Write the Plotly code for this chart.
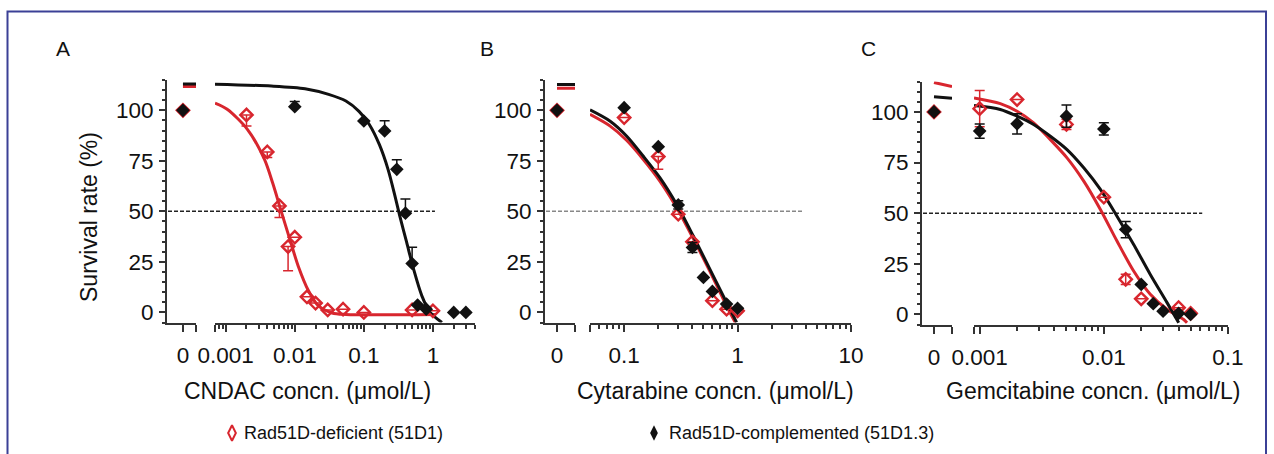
import math
import plotly.graph_objects as go

W, H = 1274, 454
RED = "#d8262e"
BLACK = "#111111"
AXIS = "#333333"
FONT = "Arial, Liberation Sans, Helvetica, sans-serif"
LEG_FONT = "Liberation Sans Narrow, Arial Narrow, Arial, Liberation Sans, sans-serif"

# ---------------- data ----------------
# Panel A: CNDAC
A_zero_red, A_zero_black = 100.0, 100.0
A_red_x = [0.002, 0.004, 0.006, 0.008, 0.01, 0.015, 0.02, 0.03, 0.05, 0.1, 0.5, 1.0]
A_red_y = [97.7, 79.4, 52.7, 32.6, 37.2, 7.7, 4.6, 1.2, 1.6, 0.0, 1.2, 0.8]
A_red_err_minus = [5.5, 2.8, 5.7, 12.0, 0, 0, 0, 0, 0, 0, 0, 0]
A_black_x = [0.01, 0.1, 0.2, 0.3, 0.4, 0.5, 0.6, 0.8, 2.0, 3.0]
A_black_y = [101.8, 94.7, 89.8, 70.8, 49.1, 24.2, 3.6, 1.6, 0.0, 0.0]
A_black_err_plus = [2.5, 0, 5.0, 4.7, 7.0, 8.0, 0, 0, 0, 0]
A_red_fit_x = [0.0007, 0.00105, 0.00206, 0.00363, 0.00479, 0.00637, 0.00851, 0.0112, 0.0158, 0.0219, 0.0347, 0.055, 1.1]
A_red_fit_y = [103.5, 100.5, 90.6, 75.8, 64.0, 50.0, 36.0, 23.0, 10.7, 3.3, -0.3, -1.0, -1.0]
A_black_fit_x = [0.0007, 0.00457, 0.0141, 0.0309, 0.055, 0.0851, 0.120, 0.168, 0.224, 0.282, 0.331, 0.417, 0.525, 0.692, 0.912, 1.35]
A_black_fit_y = [112.9, 112.0, 110.7, 107.9, 104.6, 99.5, 93.0, 83.0, 70.8, 57.7, 47.8, 34.6, 21.4, 8.2, 0.0, -5.0]
A_zero_fit_red = [111.8, 111.8]
A_zero_fit_black = [113.0, 113.0]

# Panel B: Cytarabine
B_zero_red, B_zero_black = 100.0, 100.0
B_red_x = [0.1, 0.2, 0.3, 0.4, 0.6, 0.8, 1.0]
B_red_y = [96.4, 77.1, 48.6, 34.9, 5.8, 1.6, 0.8]
B_red_err_minus = [0, 6.3, 0, 0, 0, 0, 0]
B_black_x = [0.1, 0.2, 0.3, 0.4, 0.5, 0.6, 0.8, 1.0]
B_black_y = [101.3, 82.0, 53.2, 32.1, 17.3, 10.4, 4.1, 2.0]
B_black_err = [0, 0, 2.0, 2.5, 0, 0, 0, 0]
B_red_fit_x = [0.05, 0.0748, 0.105, 0.147, 0.2065, 0.290, 0.406, 0.570, 0.748, 0.885, 0.955]
B_red_fit_y = [98.0, 92.3, 85.2, 75.8, 65.0, 51.9, 36.6, 20.3, 6.6, -1.6, -5.0]
B_black_fit_x = [0.05, 0.0748, 0.105, 0.147, 0.2065, 0.290, 0.406, 0.570, 0.748, 0.916, 0.98]
B_black_fit_y = [100.2, 94.7, 87.3, 77.4, 66.7, 53.5, 37.9, 21.4, 8.2, -1.6, -5.0]
B_zero_fit_red = [110.9, 110.9]
B_zero_fit_black = [112.8, 112.8]

# Panel C: Gemcitabine
C_zero_red, C_zero_black = 100.0, 100.0
C_red_x = [0.001, 0.002, 0.005, 0.01, 0.015, 0.02, 0.04, 0.05]
C_red_y = [101.6, 106.1, 93.8, 57.9, 17.3, 7.7, 3.3, 0.5]
C_red_err = [9.0, 0, 2.5, 0, 2.5, 0, 0, 0]
C_black_x = [0.001, 0.002, 0.005, 0.01, 0.015, 0.02, 0.025, 0.03, 0.04, 0.05]
C_black_y = [90.5, 94.1, 97.9, 91.6, 41.9, 14.8, 5.3, 1.6, 0.5, 0.0]
C_black_err = [3.5, 5.0, 5.5, 3.0, 4.0, 0, 0, 0, 0, 0]
C_red_fit_x = [0.0009, 0.001466, 0.002, 0.00272, 0.00371, 0.00505, 0.00689, 0.00938, 0.01276, 0.01738, 0.02366, 0.03228, 0.04395, 0.04677]
C_red_fit_y = [106.9, 104.1, 100.3, 94.6, 86.3, 77.3, 65.8, 51.8, 36.2, 21.4, 9.9, 2.5, -2.5, -4.1]
C_black_fit_x = [0.0009, 0.001466, 0.002, 0.00272, 0.00371, 0.00505, 0.00689, 0.00938, 0.01276, 0.01738, 0.02366, 0.03228, 0.0401]
C_black_fit_y = [103.1, 101.2, 97.9, 93.8, 88.0, 81.4, 72.4, 61.7, 48.5, 34.5, 19.7, 5.8, -4.1]
C_zero_fit_red = [114.5, 112.5]
C_zero_fit_black = [107.5, 106.7]

Y_TICKS = [0, 25, 50, 75, 100]
PANEL_LETTERS = ["A", "B", "C"]
X_TITLES = ["CNDAC concn. (\u03bcmol/L)", "Cytarabine concn. (\u03bcmol/L)", "Gemcitabine concn. (\u03bcmol/L)"]
LEGEND_NAMES = ["Rad51D-deficient (51D1)", "Rad51D-complemented (51D1.3)"]

# ---------------- layout geometry (pixels) ----------------
panels = [
    dict(ytop=80, ybot=322.5, zdom=(167, 196), zrange=(-0.55, 0.45), ldom=(215, 474.5),
         lrange=(0.0007, 4.0), majors=[0.001, 0.01, 0.1, 1], labels=["0.001", "0.01", "0.1", "1"],
         ref_end=1.07, ref_color="#222222", letter_px=(63, 48), title_px=(307, 391),
         data=dict(zr=A_zero_red, zb=A_zero_black, rx=A_red_x, ry=A_red_y, rep=[0] * len(A_red_x), rem=A_red_err_minus,
                   bx=A_black_x, by=A_black_y, bep=A_black_err_plus, bem=[0] * len(A_black_x),
                   rfx=A_red_fit_x, rfy=A_red_fit_y, bfx=A_black_fit_x, bfy=A_black_fit_y,
                   zfr=A_zero_fit_red, zfb=A_zero_fit_black)),
    dict(ytop=80, ybot=322.5, zdom=(545, 575), zrange=(-0.4, 0.6), ldom=(590, 851),
         lrange=(0.05, 10.0), majors=[0.1, 1, 10], labels=["0.1", "1", "10"],
         ref_end=3.8, ref_color="#888888", letter_px=(487, 48), title_px=(715, 391),
         data=dict(zr=B_zero_red, zb=B_zero_black, rx=B_red_x, ry=B_red_y, rep=[0] * len(B_red_x), rem=B_red_err_minus,
                   bx=B_black_x, by=B_black_y, bep=B_black_err, bem=B_black_err,
                   rfx=B_red_fit_x, rfy=B_red_fit_y, bfx=B_black_fit_x, bfy=B_black_fit_y,
                   zfr=B_zero_fit_red, zfb=B_zero_fit_black)),
    dict(ytop=81.5, ybot=324.5, zdom=(922, 952), zrange=(-0.4, 0.6), ldom=(974, 1228),
         lrange=(0.0009, 0.1), majors=[0.001, 0.01, 0.1], labels=["0.001", "0.01", "0.1"],
         ref_end=0.062, ref_color="#222222", letter_px=(868, 48), title_px=(1093, 391),
         data=dict(zr=C_zero_red, zb=C_zero_black, rx=C_red_x, ry=C_red_y, rep=C_red_err, rem=C_red_err,
                   bx=C_black_x, by=C_black_y, bep=C_black_err, bem=C_black_err,
                   rfx=C_red_fit_x, rfy=C_red_fit_y, bfx=C_black_fit_x, bfy=C_black_fit_y,
                   zfr=C_zero_fit_red, zfb=C_zero_fit_black)),
]


def pxx(p):
    return p / W


def pxy(p):
    return 1 - p / H


fig = go.Figure()
layout = dict(width=W, height=H, autosize=False, margin=dict(l=0, r=0, t=0, b=0, pad=0, autoexpand=False),
              paper_bgcolor="white", plot_bgcolor="rgba(0,0,0,0)", showlegend=False,
              font=dict(family=FONT, color=BLACK))
shapes, annotations = [], []
tickfont = dict(family=FONT, size=22.5, color=BLACK)

for i, p in enumerate(panels):
    zx_id, lx_id, y_id = 2 * i + 1, 2 * i + 2, i + 1
    zx_name = "x" if zx_id == 1 else f"x{zx_id}"
    lx_name = f"x{lx_id}"
    y_name = "y" if y_id == 1 else f"y{y_id}"
    ydom = [pxy(p["ybot"]), pxy(p["ytop"])]

    lo, hi = p["lrange"]
    minors = []
    for n in range(-5, 2):
        for k in range(2, 10):
            v = k * 10 ** n
            if lo * 0.999 <= v <= hi * 1.001:
                minors.append(v)

    layout["yaxis" if y_id == 1 else f"yaxis{y_id}"] = dict(
        domain=ydom, anchor=zx_name, range=[-5, 115], showline=True, linewidth=2, linecolor=AXIS,
        ticks="outside", ticklen=6, tickwidth=2, tickcolor=AXIS, tickvals=Y_TICKS,
        tickfont=tickfont, showgrid=False, zeroline=False, ticklabelstandoff=1, automargin=False,
        minor=dict(tickmode="linear", tick0=0, dtick=5, ticks="outside", ticklen=3, tickwidth=1.5,
                   tickcolor=AXIS, showgrid=False))
    layout["xaxis" if zx_id == 1 else f"xaxis{zx_id}"] = dict(
        domain=[pxx(p["zdom"][0]), pxx(p["zdom"][1])], anchor=y_name, range=list(p["zrange"]),
        showline=True, linewidth=2, linecolor=AXIS, ticks="outside", ticklen=7, tickwidth=2,
        tickcolor=AXIS, tickvals=[0, p["zrange"][1] - 0.002], ticktext=["0", ""], automargin=False,
        tickfont=tickfont, showgrid=False, zeroline=False, ticklabelstandoff=4)
    layout[f"xaxis{lx_id}"] = dict(
        domain=[pxx(p["ldom"][0]), pxx(p["ldom"][1])], anchor=y_name, type="log",
        range=[math.log10(lo), math.log10(hi)], showline=True, linewidth=2, linecolor=AXIS,
        ticks="outside", ticklen=7, tickwidth=2, tickcolor=AXIS, automargin=False,
        tickvals=[lo * 1.001] + p["majors"], ticktext=[""] + p["labels"],
        tickfont=tickfont, showgrid=False, zeroline=False, ticklabelstandoff=4,
        minor=dict(tickmode="array", tickvals=minors, ticks="outside", ticklen=4, tickwidth=1.5,
                   tickcolor=AXIS, showgrid=False))

    d = p["data"]
    zend = p["zrange"][1]
    fig.add_trace(go.Scatter(x=[0, zend], y=d["zfr"], mode="lines", line=dict(color=RED, width=3),
                             xaxis=zx_name, yaxis=y_name, hoverinfo="skip"))
    fig.add_trace(go.Scatter(x=[0, zend], y=d["zfb"], mode="lines", line=dict(color=BLACK, width=3),
                             xaxis=zx_name, yaxis=y_name, hoverinfo="skip"))
    fig.add_trace(go.Scatter(x=d["rfx"], y=d["rfy"], mode="lines",
                             line=dict(color=RED, width=3, shape="spline", smoothing=0.8),
                             xaxis=lx_name, yaxis=y_name, name=LEGEND_NAMES[0]))
    fig.add_trace(go.Scatter(x=d["bfx"], y=d["bfy"], mode="lines",
                             line=dict(color=BLACK, width=3, shape="spline", smoothing=0.8),
                             xaxis=lx_name, yaxis=y_name, name=LEGEND_NAMES[1]))
    fig.add_trace(go.Scatter(x=[0], y=[d["zr"]], mode="markers", cliponaxis=False,
                             marker=dict(symbol="diamond-open", size=9.5, color=RED, line=dict(width=2.4, color=RED)),
                             xaxis=zx_name, yaxis=y_name))
    fig.add_trace(go.Scatter(x=[0], y=[d["zb"]], mode="markers", cliponaxis=False,
                             marker=dict(symbol="diamond", size=10.5, color=BLACK),
                             xaxis=zx_name, yaxis=y_name))
    fig.add_trace(go.Scatter(x=d["rx"], y=d["ry"], mode="markers", cliponaxis=False,
                             marker=dict(symbol="diamond-open", size=9.5, color=RED, line=dict(width=2.4, color=RED)),
                             error_y=dict(type="data", symmetric=False, array=d["rep"], arrayminus=d["rem"],
                                          color=RED, thickness=1.5, width=5),
                             xaxis=lx_name, yaxis=y_name, name=LEGEND_NAMES[0]))
    fig.add_trace(go.Scatter(x=d["bx"], y=d["by"], mode="markers", cliponaxis=False,
                             marker=dict(symbol="diamond", size=10.5, color=BLACK),
                             error_y=dict(type="data", symmetric=False, array=d["bep"], arrayminus=d["bem"],
                                          color=BLACK, thickness=1.5, width=5),
                             xaxis=lx_name, yaxis=y_name, name=LEGEND_NAMES[1]))

    l0, l1 = math.log10(lo), math.log10(hi)
    end_px = p["ldom"][0] + (math.log10(p["ref_end"]) - l0) / (l1 - l0) * (p["ldom"][1] - p["ldom"][0])
    shapes.append(dict(type="line", xref="paper", yref=y_name, x0=pxx(p["zdom"][0] + 1), x1=pxx(end_px),
                       y0=50, y1=50, line=dict(color=p["ref_color"], width=1.5, dash="4px,2px"), layer="below"))

    annotations.append(dict(text=PANEL_LETTERS[i], xref="paper", yref="paper", x=pxx(p["letter_px"][0]),
                            y=pxy(p["letter_px"][1]), showarrow=False, xanchor="center", yanchor="middle",
                            font=dict(family=FONT, size=21, color=BLACK)))
    annotations.append(dict(text=X_TITLES[i], xref="paper", yref="paper", x=pxx(p["title_px"][0]),
                            y=pxy(p["title_px"][1]), showarrow=False, xanchor="center", yanchor="middle",
                            font=dict(family=FONT, size=23, color=BLACK)))

annotations.append(dict(text="Survival rate (%)", xref="paper", yref="paper", x=pxx(89), y=pxy(217),
                        textangle=-90, showarrow=False, xanchor="center", yanchor="middle",
                        font=dict(family=FONT, size=23, color=BLACK)))

layout["xaxis7"] = dict(domain=[0, 1], range=[0, W], visible=False, anchor="y4")
layout["yaxis4"] = dict(domain=[0, 1], range=[H, 0], visible=False, anchor="x7")
LEG_Y = 433
fig.add_trace(go.Scatter(x=[232], y=[LEG_Y], mode="markers", xaxis="x7", yaxis="y4", cliponaxis=False,
                         marker=dict(symbol="diamond-tall-open", size=11, color=RED, line=dict(width=2, color=RED))))
fig.add_trace(go.Scatter(x=[654], y=[LEG_Y], mode="markers", xaxis="x7", yaxis="y4", cliponaxis=False,
                         marker=dict(symbol="diamond-tall", size=11, color=BLACK)))
annotations.append(dict(text=LEGEND_NAMES[0], xref="paper", yref="paper", x=pxx(242), y=pxy(LEG_Y),
                        showarrow=False, xanchor="left", yanchor="middle",
                        font=dict(family=LEG_FONT, size=18, color=BLACK)))
annotations.append(dict(text=LEGEND_NAMES[1], xref="paper", yref="paper", x=pxx(667), y=pxy(LEG_Y),
                        showarrow=False, xanchor="left", yanchor="middle",
                        font=dict(family=LEG_FONT, size=18, color=BLACK)))

shapes.append(dict(type="rect", xref="paper", yref="paper", x0=pxx(7.5), x1=pxx(1266), y0=-0.2, y1=pxy(11.5),
                   line=dict(color="#3b4096", width=2), fillcolor="rgba(0,0,0,0)", layer="below"))

layout["shapes"] = shapes
layout["annotations"] = annotations
fig.update_layout(**layout)
fig.write_html("out.html", config={"responsive": False, "displayModeBar": False},
               post_script="document.body.style.margin='0';document.body.style.overflow='hidden';")
